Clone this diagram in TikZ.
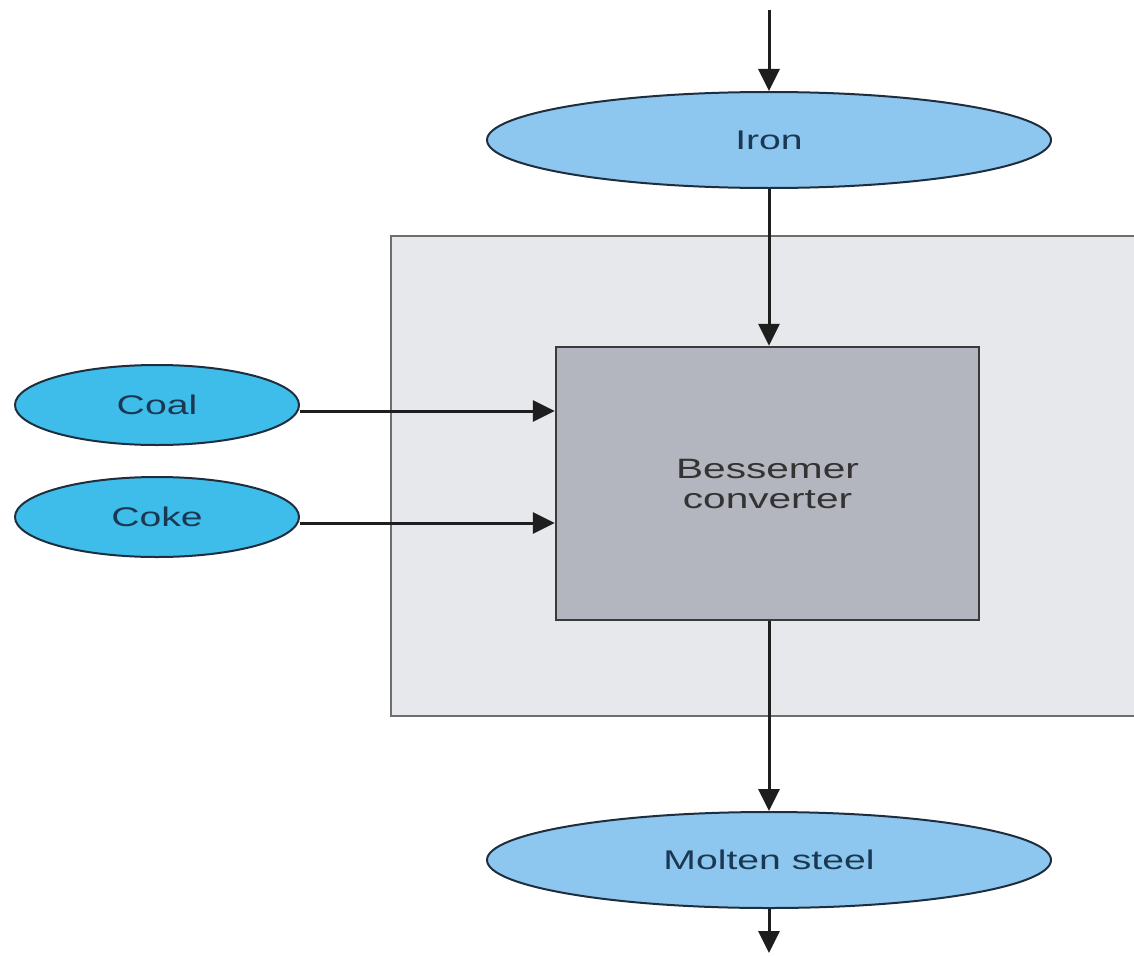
\documentclass[tikz,border=0pt]{standalone}
\usepackage{fontspec}
\setmainfont{Liberation Sans}[FakeStretch=1.45]
\usetikzlibrary{shapes.geometric,arrows.meta}
\definecolor{ironfill}{HTML}{8DC6EE}
\definecolor{coalfill}{HTML}{3FBDEA}
\definecolor{ellline}{HTML}{1F2E3E}
\definecolor{txtblue}{HTML}{1B3853}
\definecolor{outerfill}{HTML}{E6E8EC}
\definecolor{outerline}{HTML}{6E6E6E}
\definecolor{convfill}{HTML}{B3B6BF}
\definecolor{convline}{HTML}{3A3A3A}
\definecolor{arrline}{HTML}{1E1E1E}
\tikzset{
  mainell/.style={ellipse, draw=ellline, line width=2pt, fill=ironfill, minimum width=564pt, minimum height=96pt, inner sep=0pt, text=txtblue, font=\fontsize{27}{30}\selectfont},
  sideell/.style={ellipse, draw=ellline, line width=2pt, fill=coalfill, minimum width=284pt, minimum height=80pt, inner sep=0pt, text=txtblue, font=\fontsize{27}{30}\selectfont},
  convbox/.style={rectangle, draw=convline, line width=2.5pt, fill=convfill, minimum width=423pt, minimum height=273pt, inner sep=0pt, align=center, text=black!80, font=\fontsize{28}{30}\selectfont},
  flow/.style={draw=arrline, line width=3pt, -{Triangle[length=22pt,width=21pt]}}
}
\begin{document}
\begin{tikzpicture}[x=1pt,y=-1pt]
\useasboundingbox (0,0) rectangle (1134,955);
% outer region
\fill[outerfill] (391,236) rectangle (1134,716);
\draw[outerline, line width=2.5pt] (1136,236) -- (391,236) -- (391,716) -- (1136,716);
% nodes
\node[convbox] (conv) at (767.5,483.5) {Bessemer\\converter};
\node[mainell] (iron) at (769,140) {Iron};
\node[mainell] (steel) at (769,860) {Molten steel};
\node[sideell] (coal) at (157,405) {Coal};
\node[sideell] (coke) at (157,517) {Coke};
\coordinate (top) at (769,10);
\coordinate (bot) at (769,953);
% connectors
\draw[flow] (top) -- (iron.north);
\draw[flow] (iron.south) -- (iron.south |- conv.north);
\draw[flow] (conv.south -| steel.north) -- (steel.north);
\draw[flow] (steel.south) -- (bot);
\draw[flow] ([yshift=-6pt]coal.east) -- ([yshift=-6pt]coal.east -| conv.west);
\draw[flow] ([yshift=-6pt]coke.east) -- ([yshift=-6pt]coke.east -| conv.west);
\end{tikzpicture}
\end{document}
